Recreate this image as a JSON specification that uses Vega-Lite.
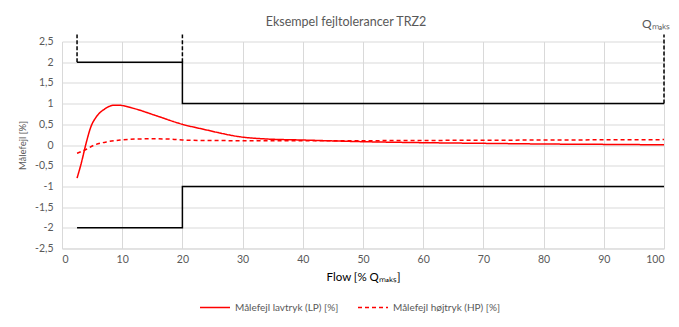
{
  "$schema": "https://vega.github.io/schema/vega-lite/v6.json",
  "width": 602,
  "height": 207,
  "autosize": "none",
  "padding": {"left": 62, "top": 41.5, "right": 15, "bottom": 78.5},
  "background": "white",
  "title": {
    "text": "Eksempel fejltolerancer TRZ2",
    "fontSize": 12.5,
    "fontWeight": "normal",
    "color": "#595959",
    "font": "Lato",
    "anchor": "middle",
    "dx": -17,
    "offset": -10
  },
  "datasets": {
    "limits": [
      {"grp": "upper", "ord": 1, "x": 2.5, "y": 2},
      {"grp": "upper", "ord": 2, "x": 20, "y": 2},
      {"grp": "upper", "ord": 3, "x": 20, "y": 1},
      {"grp": "upper", "ord": 4, "x": 100, "y": 1},
      {"grp": "lower", "ord": 1, "x": 2.5, "y": -2},
      {"grp": "lower", "ord": 2, "x": 20, "y": -2},
      {"grp": "lower", "ord": 3, "x": 20, "y": -1},
      {"grp": "lower", "ord": 4, "x": 100, "y": -1}
    ],
    "markers": [
      {"x": 2.5, "y": 2, "y2": 2.67},
      {"x": 20, "y": 2, "y2": 2.67},
      {"x": 100, "y": 1, "y2": 2.67}
    ],
    "errors": [
      {"series": "Målefejl lavtryk (LP) [%]", "x": 2.5, "y": -0.8},
      {"series": "Målefejl lavtryk (LP) [%]", "x": 3.2, "y": -0.44},
      {"series": "Målefejl lavtryk (LP) [%]", "x": 4.0, "y": 0.04},
      {"series": "Målefejl lavtryk (LP) [%]", "x": 4.8, "y": 0.44},
      {"series": "Målefejl lavtryk (LP) [%]", "x": 5.7, "y": 0.68},
      {"series": "Målefejl lavtryk (LP) [%]", "x": 7.1, "y": 0.87},
      {"series": "Målefejl lavtryk (LP) [%]", "x": 8.6, "y": 0.96},
      {"series": "Målefejl lavtryk (LP) [%]", "x": 9.4, "y": 0.96},
      {"series": "Målefejl lavtryk (LP) [%]", "x": 12, "y": 0.88},
      {"series": "Målefejl lavtryk (LP) [%]", "x": 15.4, "y": 0.72},
      {"series": "Målefejl lavtryk (LP) [%]", "x": 20, "y": 0.5},
      {"series": "Målefejl lavtryk (LP) [%]", "x": 23.5, "y": 0.38},
      {"series": "Målefejl lavtryk (LP) [%]", "x": 30, "y": 0.19},
      {"series": "Målefejl lavtryk (LP) [%]", "x": 34, "y": 0.145},
      {"series": "Målefejl lavtryk (LP) [%]", "x": 40, "y": 0.12},
      {"series": "Målefejl lavtryk (LP) [%]", "x": 50, "y": 0.08},
      {"series": "Målefejl lavtryk (LP) [%]", "x": 60, "y": 0.056},
      {"series": "Målefejl lavtryk (LP) [%]", "x": 70, "y": 0.04},
      {"series": "Målefejl lavtryk (LP) [%]", "x": 80, "y": 0.024},
      {"series": "Målefejl lavtryk (LP) [%]", "x": 90, "y": 0.015},
      {"series": "Målefejl lavtryk (LP) [%]", "x": 100, "y": 0.005},
      {"series": "Målefejl højtryk (HP) [%]", "x": 2.5, "y": -0.2},
      {"series": "Målefejl højtryk (HP) [%]", "x": 3.8, "y": -0.12},
      {"series": "Målefejl højtryk (HP) [%]", "x": 5.4, "y": 0.0},
      {"series": "Målefejl højtryk (HP) [%]", "x": 7.6, "y": 0.08},
      {"series": "Målefejl højtryk (HP) [%]", "x": 9.8, "y": 0.12},
      {"series": "Målefejl højtryk (HP) [%]", "x": 12.6, "y": 0.145},
      {"series": "Målefejl højtryk (HP) [%]", "x": 15.4, "y": 0.15},
      {"series": "Målefejl højtryk (HP) [%]", "x": 18.2, "y": 0.14},
      {"series": "Målefejl højtryk (HP) [%]", "x": 20, "y": 0.12},
      {"series": "Målefejl højtryk (HP) [%]", "x": 23, "y": 0.11},
      {"series": "Målefejl højtryk (HP) [%]", "x": 40, "y": 0.1},
      {"series": "Målefejl højtryk (HP) [%]", "x": 60, "y": 0.11},
      {"series": "Målefejl højtryk (HP) [%]", "x": 80, "y": 0.12},
      {"series": "Målefejl højtryk (HP) [%]", "x": 100, "y": 0.13}
    ],
    "labels": [
      {"x": 100, "y": 2.67, "label": "Qₘₐₖₛ"}
    ]
  },
  "encoding": {
    "x": {
      "field": "x",
      "type": "quantitative",
      "scale": {"domain": [0, 100], "nice": false},
      "axis": {
        "title": "Flow [% Qₘₐₖₛ]",
        "values": [0, 10, 20, 30, 40, 50, 60, 70, 80, 90, 100],
        "grid": true,
        "gridColor": "#d9d9d9",
        "domainColor": "#d9d9d9",
        "ticks": false,
        "labelFont": "Lato",
        "labelFontSize": 10.5,
        "labelColor": "#595959",
        "labelPadding": 6,
        "titleFont": "Lato",
        "titleFontSize": 11.5,
        "titleFontWeight": "normal",
        "titleColor": "#000000",
        "titlePadding": 6
      }
    },
    "y": {
      "field": "y",
      "type": "quantitative",
      "scale": {"domain": [-2.5, 2.5], "nice": false},
      "axis": {
        "title": "Målefejl [%]",
        "values": [-2.5, -2, -1.5, -1, -0.5, 0, 0.5, 1, 1.5, 2, 2.5],
        "labelExpr": "replace(toString(datum.value), '.', ',')",
        "grid": true,
        "gridColor": "#d9d9d9",
        "domainColor": "#d9d9d9",
        "ticks": false,
        "labelFont": "Lato",
        "labelFontSize": 10.5,
        "labelColor": "#595959",
        "labelPadding": 9,
        "titleFont": "Lato",
        "titleFontSize": 9.5,
        "titleFontWeight": "normal",
        "titleColor": "#595959",
        "titlePadding": 7
      }
    }
  },
  "layer": [
    {
      "data": {"name": "limits"},
      "mark": {"type": "line", "color": "black", "strokeWidth": 1.5},
      "encoding": {
        "detail": {"field": "grp"},
        "order": {"field": "ord", "type": "quantitative"}
      }
    },
    {
      "data": {"name": "markers"},
      "mark": {"type": "rule", "color": "black", "strokeWidth": 1.5, "strokeDash": [4, 2]},
      "encoding": {
        "y2": {"field": "y2"}
      }
    },
    {
      "data": {"name": "errors"},
      "mark": {"type": "line", "strokeWidth": 1.5, "interpolate": "monotone"},
      "encoding": {
        "color": {
          "field": "series",
          "type": "nominal",
          "scale": {
            "domain": ["Målefejl lavtryk (LP) [%]", "Målefejl højtryk (HP) [%]"],
            "range": ["#ff0000", "#ff0000"]
          },
          "legend": {
            "title": null,
            "orient": "none",
            "legendX": 137,
            "legendY": 250,
            "padding": 0,
            "direction": "horizontal",
            "symbolType": "stroke",
            "symbolSize": 900,
            "symbolStrokeWidth": 1.5,
            "labelFont": "Lato",
            "labelFontSize": 10,
            "labelColor": "#595959",
            "columnPadding": 16,
            "labelOffset": 4
          }
        },
        "strokeDash": {
          "field": "series",
          "type": "nominal",
          "scale": {
            "domain": ["Målefejl lavtryk (LP) [%]", "Målefejl højtryk (HP) [%]"],
            "range": [[1, 0], [4, 3]]
          },
          "legend": {
            "title": null,
            "orient": "none",
            "legendX": 137,
            "legendY": 250,
            "padding": 0,
            "direction": "horizontal",
            "symbolType": "stroke",
            "symbolSize": 900,
            "symbolStrokeWidth": 1.5,
            "labelFont": "Lato",
            "labelFontSize": 10,
            "labelColor": "#595959",
            "columnPadding": 16,
            "labelOffset": 4
          }
        }
      }
    },
    {
      "data": {"name": "labels"},
      "mark": {"type": "text", "font": "Lato", "fontSize": 12, "color": "#595959", "align": "center", "baseline": "bottom", "dx": -8, "dy": -3},
      "encoding": {
        "text": {"field": "label"}
      }
    }
  ],
  "config": {
    "view": {"stroke": null}
  }
}
